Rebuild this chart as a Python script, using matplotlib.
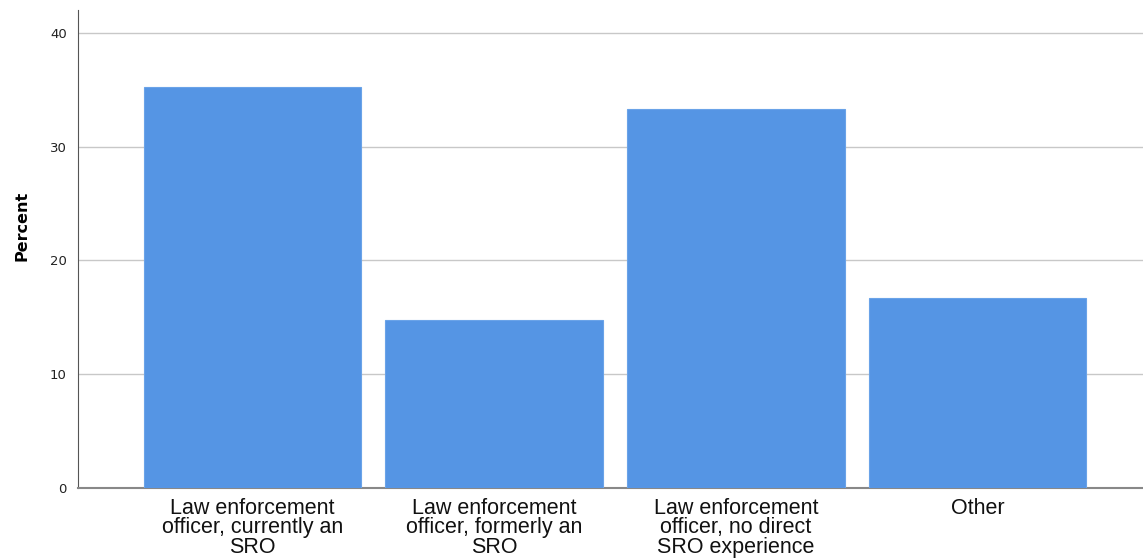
import matplotlib
matplotlib.use("Agg")
import matplotlib.pyplot as plt

categories = ["Law enforcement\nofficer, currently an\nSRO",
              "Law enforcement\nofficer, formerly an\nSRO",
              "Law enforcement\nofficer, no direct\nSRO experience",
              "Other"]
percent = [35.2, 14.8, 33.3, 16.7]
yticks = [0, 10, 20, 30, 40]

fig = plt.figure(figsize=(11.43, 5.6), dpi=100)
ax = fig.add_axes([78/1143, 1-488/560, 1-78/1143, (488-10)/560])

x = list(range(len(categories)))
ax.bar(x, percent, width=0.9, color="#5595e4", edgecolor="#6aa3e8", linewidth=0.8, zorder=3)

ax.set_xlim(-0.722, 3.684)
ax.set_ylim(0, 42.0)
ax.set_yticks(yticks)
ax.set_yticklabels([str(t) for t in yticks], fontsize=9.5, color="#222222", family="DejaVu Sans")
ax.yaxis.grid(True, color="#c8c8c8", linewidth=1.0, zorder=0)
ax.set_xticks(x)
ax.set_xticklabels(categories, fontsize=15.5, family=["Liberation Sans", "DejaVu Sans"],
                   linespacing=0.9, color="#111111")
ax.tick_params(axis="y", length=0, pad=8)
ax.tick_params(axis="x", length=0, pad=7)

for s in ["top", "right"]:
    ax.spines[s].set_visible(False)
ax.spines["left"].set_color("#555555")
ax.spines["bottom"].set_color("#888888")
ax.spines["bottom"].set_linewidth(1.5)

ax.set_ylabel("Percent", fontsize=11.5, fontweight="bold", family="DejaVu Sans")
ax.yaxis.set_label_coords(-0.0455, 0.548)

fig.savefig("out.png", dpi=100)
